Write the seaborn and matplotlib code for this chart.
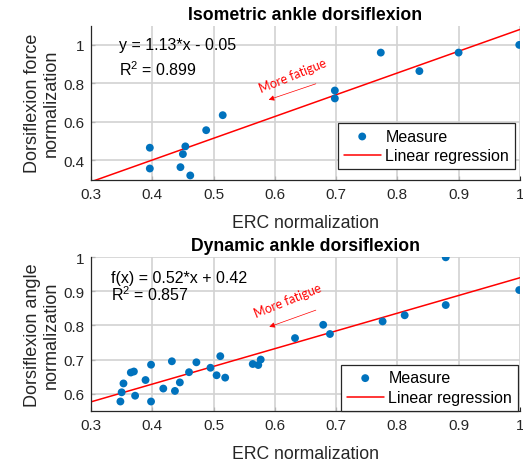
import matplotlib
matplotlib.use("Agg")
import matplotlib.pyplot as plt
import seaborn as sns
import pandas as pd

# ── data ────────────────────────────────────────────────────────────────────
iso_erc = [0.396, 0.396, 0.446, 0.462, 0.450, 0.454, 0.488, 0.515,
           0.698, 0.698, 0.773, 0.836, 0.900, 0.999]
iso_force = [0.466, 0.358, 0.365, 0.322, 0.433, 0.473, 0.557, 0.635,
             0.763, 0.722, 0.960, 0.864, 0.960, 1.000]
iso_fit = (1.13, -0.05)          # slope, intercept
iso_r2 = 0.899

dyn_erc = [0.348, 0.350, 0.353, 0.365, 0.370, 0.372, 0.389, 0.398, 0.398, 0.418,
           0.432, 0.437, 0.445, 0.460, 0.472, 0.495, 0.505, 0.511, 0.519, 0.564,
           0.573, 0.577, 0.633, 0.679, 0.690, 0.776, 0.812, 0.879, 0.879, 0.999]
dyn_angle = [0.577, 0.604, 0.630, 0.662, 0.665, 0.594, 0.640, 0.685, 0.577, 0.615,
             0.695, 0.608, 0.633, 0.663, 0.692, 0.676, 0.654, 0.710, 0.647, 0.687,
             0.684, 0.700, 0.763, 0.802, 0.775, 0.812, 0.830, 1.000, 0.860, 0.904]
dyn_fit = (0.52, 0.42)
dyn_r2 = 0.857

x_ticks = [0.3, 0.4, 0.5, 0.6, 0.7, 0.8, 0.9, 1.0]
x_ticklabels = ["0.3", "0.4", "0.5", "0.6", "0.7", "0.8", "0.9", "1"]
iso_yticks = [0.4, 0.6, 0.8, 1.0]
iso_yticklabels = ["0.4", "0.6", "0.8", "1"]
dyn_yticks = [0.6, 0.7, 0.8, 0.9, 1.0]
dyn_yticklabels = ["0.6", "0.7", "0.8", "0.9", "1"]

# ── style ───────────────────────────────────────────────────────────────────
sns.set_theme(style="ticks")
plt.rcParams["font.family"] = ["Liberation Sans", "DejaVu Sans"]
plt.rcParams["mathtext.fontset"] = "custom"
plt.rcParams["mathtext.rm"] = "Liberation Sans"
plt.rcParams["mathtext.default"] = "regular"

DARK = "#262626"
BLUE = "#0072BD"
RED = "#FF0000"
GRID = "#d2d2d2"


def draw_panel(ax, erc, vals, fit, r2, eq_fmt, title, ylabel, ylim, yticks,
               yticklabels, eq_pos, r2_pos, txt_pos, arrow_start, arrow_end,
               leg_anchor):
    ax.set_xlim(0.3, 1.0)
    ax.set_ylim(*ylim)
    ax.set_xticks(x_ticks)
    ax.set_xticklabels(x_ticklabels)
    ax.set_yticks(yticks)
    ax.set_yticklabels(yticklabels)

    # light grid under everything
    for xv in x_ticks:
        ax.axvline(xv, color=GRID, lw=1.2, zorder=0.6)
    for yv in yticks:
        ax.axhline(yv, color=GRID, lw=1.2, zorder=0.6)

    df = pd.DataFrame({"erc": erc, "val": vals})
    sns.scatterplot(data=df, x="erc", y="val", ax=ax, color=BLUE, s=32,
                    edgecolor="none", label="Measure", zorder=3)
    slope, icpt = fit
    line_x = [x_ticks[0], x_ticks[-1]]
    line_df = pd.DataFrame({"erc": line_x,
                            "val": [slope * v + icpt for v in line_x]})
    sns.lineplot(data=line_df, x="erc", y="val", ax=ax, color=RED, lw=1.1,
                 label="Linear regression", zorder=2)
    ax.set_xlim(0.3, 1.0)
    ax.set_ylim(*ylim)

    ax.tick_params(direction="in", length=3, width=0.8, colors=DARK,
                   labelsize=11, pad=5)
    for t in ax.get_xticklabels() + ax.get_yticklabels():
        t.set_color(DARK)

    ax.set_facecolor("white")
    for side in ("top", "right"):
        ax.spines[side].set_visible(False)
    for side in ("left", "bottom"):
        ax.spines[side].set_visible(True)
        ax.spines[side].set_color(DARK)
        ax.spines[side].set_linewidth(0.9)
        ax.spines[side].set_zorder(4)

    ax.set_title(title, fontsize=12.7, fontweight="bold", color="black", pad=5)
    ax.set_xlabel("ERC normalization", fontsize=12.7, color=DARK)
    ax.set_ylabel(ylabel, fontsize=13, color=DARK, linespacing=1.15)
    ax.xaxis.set_label_coords(0.5, -0.225)
    ax.yaxis.set_label_coords(-0.072, 0.5)

    ax.text(eq_pos[0], eq_pos[1], eq_fmt.format(abs(slope), abs(icpt)),
            fontsize=11.5, color="black", va="center", ha="left")
    ax.text(r2_pos[0], r2_pos[1], "R$^{2}$ = %.3f" % r2,
            fontsize=11.5, color="black", va="center", ha="left")

    ax.text(txt_pos[0], txt_pos[1], "More fatigue", color=RED, fontsize=9,
            rotation=22, ha="center", va="center", family=["Lato", "DejaVu Sans"])
    ax.annotate("", xy=arrow_end, xytext=arrow_start,
                arrowprops=dict(arrowstyle="-|>", color=RED, lw=0.5,
                                mutation_scale=8, shrinkA=0, shrinkB=0))

    leg = ax.legend(loc="lower right", bbox_to_anchor=leg_anchor,
                    borderaxespad=0, fontsize=11.5, frameon=True,
                    fancybox=False, framealpha=1, edgecolor=DARK,
                    handlelength=2.3, handletextpad=0.3, labelspacing=0.3,
                    borderpad=0.35)
    leg.get_frame().set_linewidth(0.9)
    leg.set_zorder(5)
    for t in leg.get_texts():
        t.set_color("black")


fig = plt.figure(figsize=(5.23, 4.64), dpi=100)
fig.patch.set_facecolor("white")
ax1 = fig.add_axes([0.174, 0.6106, 0.820, 0.332])
ax2 = fig.add_axes([0.174, 0.1127, 0.820, 0.3306])

draw_panel(ax1, iso_erc, iso_force, iso_fit, iso_r2, "y = {:.2f}*x - {:.2f}",
           "Isometric ankle dorsiflexion", "Dorsiflexion force\nnormalization",
           (0.3, 1.1), iso_yticks, iso_yticklabels,
           (0.345, 1.0), (0.345, 0.876), (0.629, 0.845),
           (0.667, 0.798), (0.590, 0.715), (0.988, 0.069))

draw_panel(ax2, dyn_erc, dyn_angle, dyn_fit, dyn_r2, "f(x) = {:.2f}*x + {:.2f}",
           "Dynamic ankle dorsiflexion", "Dorsiflexion angle\nnormalization",
           (0.55, 1.0), dyn_yticks, dyn_yticklabels,
           (0.332, 0.941), (0.332, 0.894), (0.621, 0.874),
           (0.667, 0.845), (0.591, 0.796), (0.995, 0.0))

fig.savefig("out.png", dpi=100)
